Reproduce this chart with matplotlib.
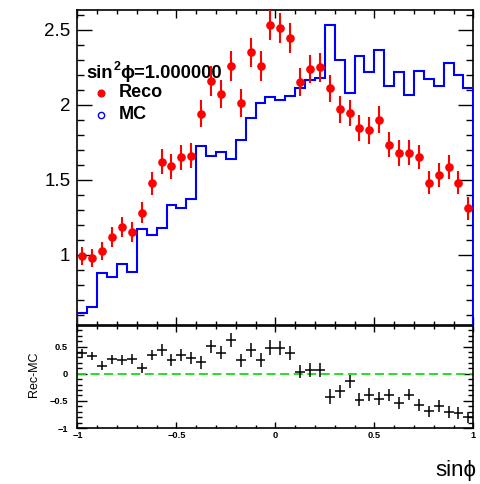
import numpy as np
import matplotlib.pyplot as plt
from matplotlib.ticker import MultipleLocator

plt.rcParams['font.family'] = ['Liberation Sans', 'DejaVu Sans']

# 40 bins in sin(phi)
edges = np.linspace(-1, 1, 41)
centers = 0.5 * (edges[:-1] + edges[1:])

reco = [0.99, 0.98, 1.025, 1.115, 1.185, 1.15, 1.28, 1.475, 1.62, 1.59,
        1.65, 1.66, 1.94, 2.16, 2.075, 2.26, 2.01, 2.35, 2.26, 2.535,
        2.51, 2.445, 2.15, 2.237, 2.25, 2.11, 1.97, 1.945, 1.845, 1.83,
        1.90, 1.735, 1.68, 1.68, 1.65, 1.48, 1.53, 1.585, 1.48, 1.31]
reco_err = [0.061, 0.06, 0.062, 0.067, 0.069, 0.067, 0.071, 0.078, 0.083, 0.082,
            0.083, 0.083, 0.091, 0.1, 0.093, 0.1, 0.093, 0.098, 0.1, 0.103,
            0.1, 0.1, 0.094, 0.094, 0.097, 0.092, 0.092, 0.089, 0.089, 0.089,
            0.089, 0.086, 0.086, 0.083, 0.081, 0.078, 0.08, 0.081, 0.078, 0.076]
mc = [0.612, 0.652, 0.875, 0.852, 0.937, 0.883, 1.172, 1.13, 1.18, 1.332,
      1.312, 1.368, 1.725, 1.657, 1.685, 1.64, 1.763, 1.915, 2.01, 2.052,
      2.03, 2.06, 2.11, 2.163, 2.18, 2.53, 2.297, 2.08, 2.323, 2.22,
      2.363, 2.125, 2.217, 2.063, 2.223, 2.172, 2.125, 2.282, 2.2, 2.115]
diff_err = [0.08, 0.08, 0.085, 0.09, 0.09, 0.09, 0.095, 0.1, 0.11, 0.11,
            0.11, 0.11, 0.12, 0.125, 0.12, 0.13, 0.12, 0.13, 0.13, 0.135,
            0.13, 0.13, 0.125, 0.125, 0.13, 0.13, 0.125, 0.12, 0.12, 0.12,
            0.12, 0.115, 0.115, 0.11, 0.11, 0.105, 0.105, 0.11, 0.105, 0.1]

diff = np.array(reco) - np.array(mc)

fig = plt.figure(figsize=(4.81, 4.84), dpi=100)
ax = fig.add_axes([0.161, 0.3285, 0.823, 0.6508])
axr = fig.add_axes([0.161, 0.1157, 0.823, 0.2107])

# top pad: MC histogram and reco points
ax.stairs(mc, edges, baseline=0, color='#0000ff', lw=1.5, zorder=3)
ax.errorbar(centers, reco, yerr=reco_err, xerr=0.008, fmt='o', color='red',
            ms=5.2, elinewidth=1.5, capsize=0, zorder=4)
ax.set_xlim(-1, 1)
ax.set_ylim(0.53, 2.633)
ax.yaxis.set_minor_locator(MultipleLocator(0.1))
ax.xaxis.set_major_locator(MultipleLocator(0.5))
ax.xaxis.set_minor_locator(MultipleLocator(0.1))
ax.tick_params(which='both', direction='in', top=True, right=True, width=1.0)
ax.tick_params(axis='y', which='major', length=11, labelsize=13.5, pad=5)
ax.tick_params(axis='y', which='minor', length=5)
ax.tick_params(axis='x', which='major', length=6, labelbottom=False)
ax.tick_params(axis='x', which='minor', length=3)
ax.set_yticks([1, 1.5, 2, 2.5])
ax.set_yticklabels(['1', '1.5', '2', '2.5'])
for s in ax.spines.values():
    s.set_linewidth(1.2)

# legend: header with raised exponent, then the two entries
t1 = ax.text(0.0215, 0.785, 'sin', transform=ax.transAxes,
             fontsize=13.3, fontweight='bold', va='baseline', ha='left')
t2 = ax.annotate('2', xy=(1, 1), xycoords=t1, xytext=(0.5, 2.5),
                 textcoords='offset points', fontsize=9, fontweight='bold',
                 va='top', ha='left')
ax.annotate('ϕ=1.000000', xy=(1, 0), xycoords=(t2, t1), xytext=(0.2, 0),
            textcoords='offset points', fontsize=13.3, fontweight='bold',
            va='bottom', ha='left')
ax.plot([0.0586], [0.7356], 'o', color='red', ms=4.8, transform=ax.transAxes)
ax.text(0.1056, 0.725, 'Reco', transform=ax.transAxes,
        fontsize=13, fontweight='bold', va='baseline', ha='left')
ax.plot([0.0586], [0.6667], 'o', mfc='none', mec='#0000ff', ms=4.5, mew=1,
        transform=ax.transAxes)
ax.text(0.1056, 0.653, 'MC', transform=ax.transAxes,
        fontsize=13, fontweight='bold', va='baseline', ha='left')

# bottom pad: difference
axr.errorbar(centers, diff, yerr=diff_err, xerr=0.025, fmt='none',
             ecolor='black', elinewidth=1.1, capsize=0, zorder=3)
axr.axhline(0, color='#11dd11', lw=1.3, ls=(0, (5, 2.5)), zorder=2)
axr.set_xlim(-1, 1)
axr.set_ylim(-1, 0.88)
axr.yaxis.set_minor_locator(MultipleLocator(0.1))
axr.xaxis.set_minor_locator(MultipleLocator(0.1))
axr.tick_params(which='both', direction='in', top=True, right=True, width=1.0)
axr.tick_params(axis='y', which='major', length=7, labelsize=6.7, pad=7)
axr.tick_params(axis='y', which='minor', length=3.5)
axr.tick_params(axis='x', which='major', length=4, labelsize=6.7, pad=2.5)
axr.tick_params(axis='x', which='minor', length=2)
axr.set_xticks([-1, -0.5, 0, 0.5, 1])
axr.set_xticklabels(['\u22121', '\u22120.5', '0', '0.5', '1'], fontweight='bold')
axr.set_yticks([-1, -0.5, 0, 0.5])
axr.set_yticklabels(['\u22121', '\u22120.5', '0', '0.5'], fontweight='bold')
for s in axr.spines.values():
    s.set_linewidth(1.2)

fig.text(34 / 481, 1 - 374 / 484, 'Rec-MC', rotation=90, fontsize=9,
         ha='center', va='center')
fig.text(0.9896, 0.0165, 'sinϕ', fontsize=16, ha='right', va='baseline')

fig.savefig('out.png', dpi=100)
